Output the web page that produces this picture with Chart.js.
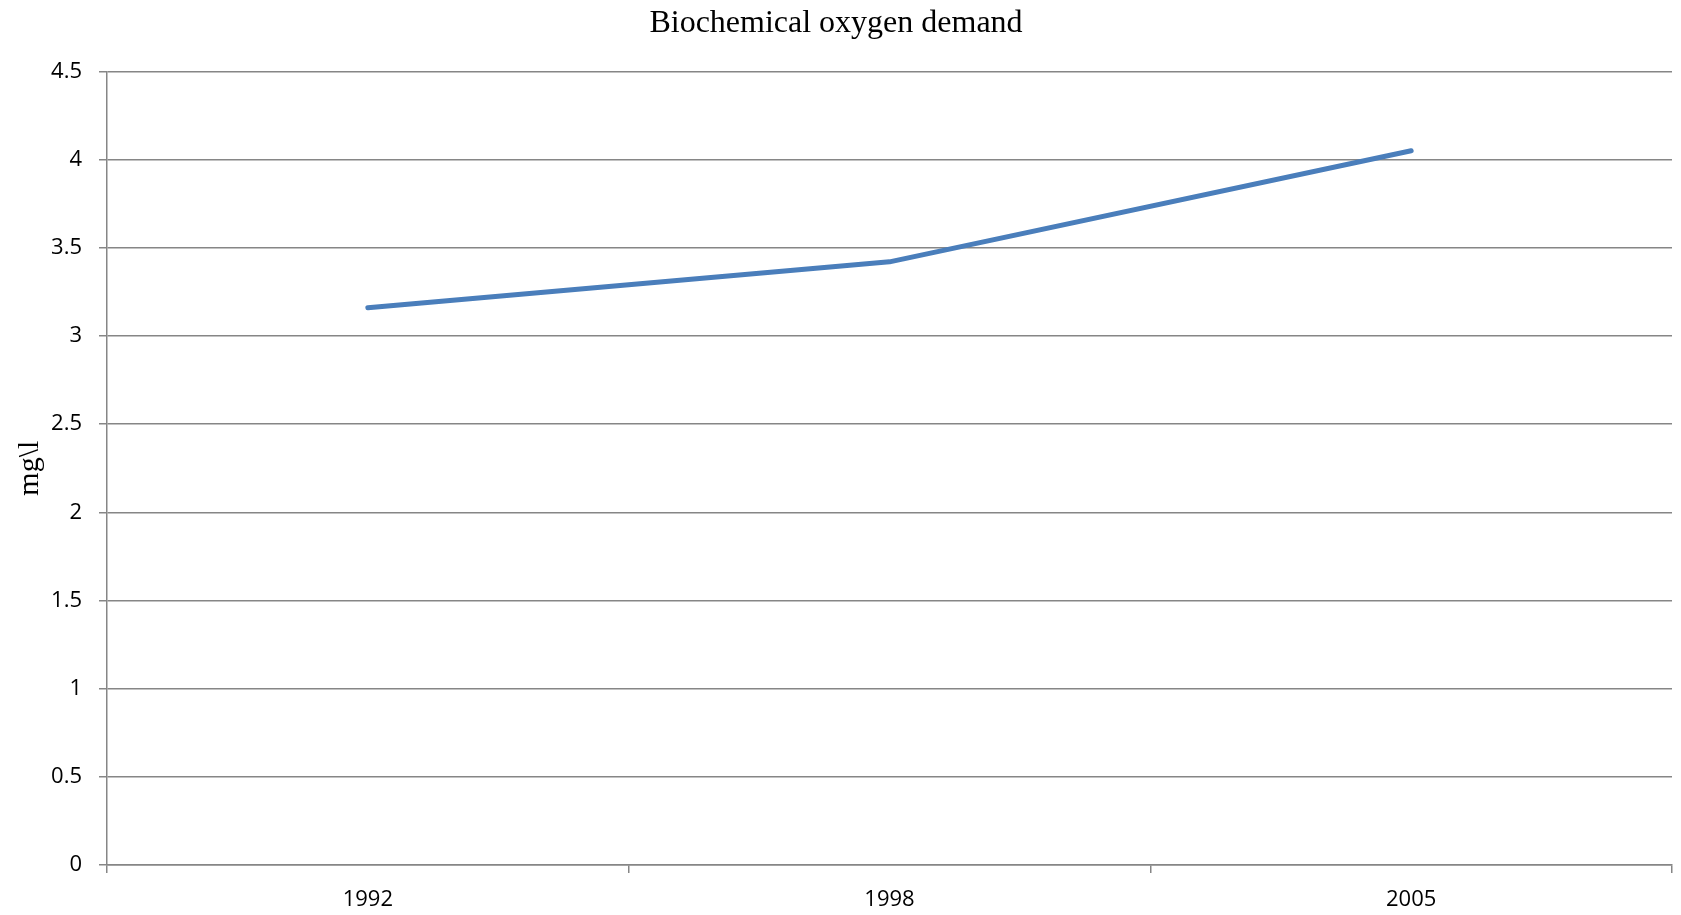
<!DOCTYPE html>
<html>
<head>
<meta charset="utf-8">
<script src="https://cdn.jsdelivr.net/npm/chart.js@4/dist/chart.umd.min.js"></script>
<style>
  html, body { margin: 0; padding: 0; background: #fff; }
  #wrap { width: 1681px; height: 915px; position: relative; }
</style>
</head>
<body>
<div id="wrap"><canvas id="grafico"></canvas></div>
<script>
    // Dados
    const anos = ["1992", "1998", "2005"];
    const dbo = [3.16, 3.42, 4.05];
    const yTicks = [0, 0.5, 1, 1.5, 2, 2.5, 3, 3.5, 4, 4.5];

    const cinza = '#868686';
    const fonteEixo = { family: "'Open Sans', 'Liberation Sans', sans-serif", size: 22 };

    const ctx = document.getElementById('grafico').getContext('2d');
    new Chart(ctx, {
      type: 'line',
      data: {
        labels: anos,
        datasets: [{
          label: 'BOD',
          data: dbo,
          borderColor: '#4a7ebb',
          borderWidth: 5,
          borderCapStyle: 'round',
          borderJoinStyle: 'round',
          pointRadius: 0,
          tension: 0,
          fill: false
        }]
      },
      options: {
        responsive: true,
        maintainAspectRatio: false,
        animation: false,
        layout: { padding: { left: 0, right: 9, top: 0, bottom: 0 } },
        plugins: {
          legend: { display: false },
          tooltip: { enabled: false },
          title: {
            display: true,
            text: 'Biochemical oxygen demand',
            color: '#000',
            font: { family: "'Liberation Serif', 'Times New Roman', serif", size: 32, weight: 'normal' },
            padding: { top: 4, bottom: 29 }
          }
        },
        scales: {
          x: {
            offset: true,
            grid: {
              offset: true,
              drawOnChartArea: false,
              drawTicks: true,
              tickLength: 8,
              color: cinza,
              lineWidth: 1.5
            },
            border: { color: cinza, width: 1.5 },
            ticks: { color: '#000', font: fonteEixo, padding: 14, maxRotation: 0 },
            afterFit: s => { s.height = 50; }
          },
          y: {
            min: 0,
            max: 4.5,
            afterBuildTicks: s => { s.ticks = yTicks.map(v => ({ value: v })); },
            grid: { color: cinza, lineWidth: 1.5, tickLength: 8, drawTicks: true },
            border: { color: cinza, width: 1.5 },
            ticks: {
              color: '#000',
              font: fonteEixo,
              padding: 17,
              callback: v => String(v)
            },
            title: {
              display: true,
              text: 'mg\\l',
              color: '#000',
              font: { family: "'Liberation Serif', 'Times New Roman', serif", size: 30 },
              padding: { top: 12, bottom: 0 }
            },
            afterFit: s => { s.width = 107; }
          }
        }
      }
    });
</script>
</body>
</html>
